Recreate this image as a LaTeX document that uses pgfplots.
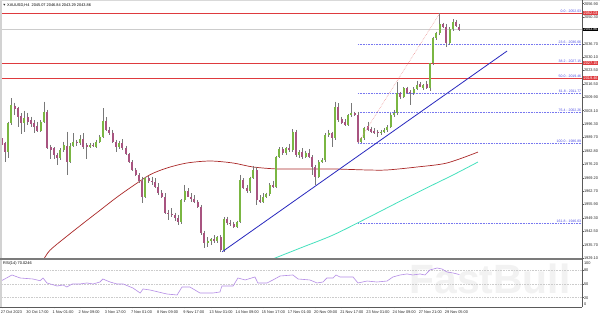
\documentclass[border=0pt]{standalone}
\usepackage{pgfplots}
\pgfplotsset{compat=1.18}
\usepackage{pgfplotstable}
\usepackage{fontspec}
\setmainfont{Liberation Sans}
\newcommand{\ax}{\fontsize{3.9}{4.4}\selectfont}
\newcommand{\fb}{\fontsize{3.5}{4}\selectfont}
\definecolor{bullc}{RGB}{122,182,66}
\definecolor{bearc}{RGB}{168,84,128}
\definecolor{wickc}{RGB}{120,120,120}
\definecolor{redl}{RGB}{222,58,62}
\definecolor{fibc}{RGB}{80,80,230}
\definecolor{fiblc}{RGB}{120,120,240}
\definecolor{trendc}{RGB}{40,40,190}
\definecolor{maredc}{RGB}{170,40,40}
\definecolor{macyanc}{RGB}{70,225,190}
\definecolor{rsic}{RGB}{180,140,230}
\definecolor{framec}{RGB}{90,90,90}
\definecolor{fibdiagc}{RGB}{235,140,140}
\pgfplotsset{/pgf/number format/assume math mode=true}

\pgfplotstableread{
k O H L C
0 1989.2 1990.4 1985.4 1985.9
1 1986.7 1987.5 1977.5 1982.5
2 1982.5 1997.6 1979.2 1996.8
3 1996.8 2009.3 1995.9 2006.0
4 2005.6 2007.1 2000.9 2004.0
5 2004.3 2005.1 1995.1 2000.1
6 2000.4 2001.8 1991.4 1997.1
7 1997.1 2003.1 1992.6 1999.3
8 1999.8 2002.1 1995.9 1997.4
9 1998.4 2000.1 1995.1 1996.4
10 1997.1 1998.4 1991.7 1995.1
11 1995.4 1997.6 1992.6 1993.1
12 1993.1 1998.4 1992.6 1997.6
13 1997.6 2007.6 1996.8 2002.6
14 2002.6 2003.5 1983.7 1984.2
15 1984.7 1985.9 1978.7 1983.3
16 1984.2 1984.7 1978.7 1980.8
17 1980.8 1982.0 1975.8 1979.5
18 1979.5 1984.2 1978.3 1983.3
19 1983.3 1987.5 1982.5 1985.9
20 1985.4 1992.6 1970.8 1977.5
21 1977.5 1986.7 1976.6 1985.4
22 1985.4 1991.7 1984.7 1987.5
23 1987.5 1988.4 1985.4 1986.7
24 1986.7 1990.9 1985.9 1989.0
25 1989.0 1991.7 1983.7 1984.7
26 1985.9 1986.7 1978.7 1984.7
27 1984.7 1986.7 1984.2 1985.9
28 1985.9 1987.0 1984.7 1985.4
29 1984.7 1988.4 1984.2 1987.5
30 1987.5 1990.9 1986.7 1990.1
31 1990.1 2004.3 1989.2 1998.1
32 1998.1 1999.8 1993.1 1993.4
33 1993.4 1995.1 1990.9 1992.1
34 1992.1 1993.4 1987.0 1987.5
35 1987.5 1988.4 1982.5 1984.7
36 1984.7 1988.0 1983.7 1987.0
37 1987.0 1988.7 1983.3 1984.2
38 1984.2 1985.4 1980.8 1981.3
39 1981.3 1982.0 1977.0 1977.5
40 1977.5 1978.3 1973.0 1973.3
41 1973.3 1974.1 1970.3 1970.9
42 1970.9 1971.6 1966.9 1967.9
43 1967.9 1969.9 1956.5 1959.9
44 1959.9 1969.9 1959.0 1969.1
45 1969.1 1970.3 1966.9 1967.9
46 1967.9 1969.9 1965.8 1967.3
47 1967.3 1969.1 1964.1 1964.9
48 1964.9 1966.6 1960.7 1961.9
49 1961.9 1963.2 1959.0 1959.9
50 1959.9 1961.6 1951.2 1951.8
51 1951.8 1953.2 1948.2 1951.2
52 1951.2 1954.0 1949.5 1950.5
53 1950.5 1951.8 1947.8 1949.0
54 1949.0 1950.7 1945.6 1947.0
55 1947.0 1958.5 1946.1 1958.2
56 1958.2 1965.8 1957.4 1962.9
57 1962.9 1964.1 1959.5 1959.9
58 1959.9 1961.6 1957.4 1958.5
59 1958.5 1960.7 1956.5 1957.4
60 1957.4 1958.2 1954.0 1954.9
61 1954.9 1955.7 1940.6 1941.8
62 1941.8 1942.8 1933.9 1936.4
63 1936.4 1939.4 1934.7 1937.8
64 1937.8 1938.9 1935.6 1938.4
65 1938.4 1940.6 1936.4 1937.8
66 1937.8 1940.1 1936.8 1939.4
67 1939.4 1940.6 1932.2 1933.1
68 1933.1 1949.5 1932.2 1948.5
69 1948.5 1949.8 1945.6 1946.8
70 1946.8 1948.2 1945.1 1946.1
71 1946.1 1947.3 1944.0 1944.8
72 1944.8 1947.8 1944.0 1947.3
73 1947.3 1970.8 1946.5 1968.3
74 1968.3 1969.1 1963.6 1964.1
75 1964.1 1965.8 1961.9 1962.7
76 1962.7 1969.9 1961.9 1969.1
77 1969.1 1975.3 1968.6 1973.3
78 1973.3 1975.0 1955.7 1958.2
79 1958.2 1960.7 1956.9 1957.4
80 1957.4 1961.6 1956.9 1959.9
81 1959.9 1961.9 1959.0 1961.2
82 1961.2 1966.6 1960.2 1965.8
83 1965.8 1967.9 1964.1 1964.6
84 1964.6 1980.3 1964.1 1980.0
85 1980.0 1984.7 1979.2 1983.7
86 1983.7 1984.7 1980.8 1981.7
87 1981.7 1984.7 1980.8 1984.2
88 1984.2 1986.4 1982.5 1983.3
89 1983.3 1993.7 1982.5 1992.6
90 1992.6 1993.4 1980.0 1980.8
91 1980.8 1983.3 1979.2 1982.5
92 1982.5 1984.2 1978.7 1979.7
93 1979.7 1983.0 1979.2 1982.0
94 1982.0 1983.7 1979.2 1980.0
95 1980.0 1980.8 1970.8 1975.0
96 1975.0 1975.8 1965.8 1969.9
97 1969.9 1978.3 1969.1 1977.5
98 1977.5 1979.2 1976.6 1978.3
99 1978.3 1991.7 1977.5 1990.9
100 1990.9 1993.4 1990.1 1991.7
101 1991.7 1992.6 1985.0 1989.2
102 1989.2 2007.6 1988.4 2005.1
103 2005.1 2006.8 1997.6 1998.4
104 1998.8 2000.1 1996.4 1997.1
105 1997.6 1998.8 1995.4 1995.9
106 1995.9 2001.4 1995.4 2000.9
107 2000.9 2006.8 2000.1 2001.8
108 2001.8 2002.6 2000.4 2000.9
109 2000.9 2002.6 1986.89 1987.5
110 1987.5 1989.7 1987.0 1989.2
111 1989.2 1995.1 1988.4 1994.2
112 1995.4 1997.6 1993.1 1993.4
113 1993.7 1995.1 1992.1 1992.6
114 1993.1 1994.2 1991.4 1991.7
115 1992.6 1993.4 1990.1 1991.7
116 1992.1 1993.4 1990.9 1992.6
117 1992.6 1994.2 1991.7 1993.4
118 1993.4 1995.9 1992.6 1995.1
119 1995.1 2001.8 1994.2 2000.9
120 2000.9 2003.5 2000.1 2002.1
121 2001.8 2017.7 2000.9 2011.8
122 2011.8 2012.7 2008.8 2009.8
123 2009.8 2014.9 2009.3 2014.4
124 2014.4 2015.2 2011.5 2012.2
125 2012.7 2013.5 2006.0 2011.8
126 2011.8 2014.9 2011.0 2014.2
127 2014.2 2018.2 2013.5 2016.0
128 2016.5 2017.5 2014.9 2015.2
129 2014.4 2016.5 2013.5 2015.9
130 2016.5 2018.2 2013.9 2014.5
131 2014.4 2027.3 2013.2 2026.9
132 2026.9 2040.3 2026.1 2039.5
133 2039.5 2042.9 2038.7 2042.0
134 2042.0 2052.03 2041.2 2046.7
135 2046.7 2047.4 2044.5 2045.4
136 2045.4 2046.7 2035.3 2037.0
137 2037.0 2045.0 2036.1 2044.0
138 2044.0 2049.0 2043.4 2047.9
139 2047.9 2048.7 2045.0 2045.7
140 2045.07 2046.84 2043.29 2043.86
}\candles

\pgfplotstableread{
k v
0.15 57.2
3.2 69.1
5.7 62.6
9.6 60.4
11.8 56.7
12.7 62.6
13.9 51.8
17.0 45.3
18.8 47.4
20.0 43.1
21.6 49.6
24.0 49.6
26.1 51.8
28.0 49.6
30.1 53.9
31.0 60.4
33.2 53.9
35.3 49.6
37.2 49.6
40.2 40.9
42.4 30.1
43.3 38.8
45.4 36.6
50.6 27.9
53.7 25.8
55.2 43.1
57.6 43.1
60.7 30.1
64.7 30.1
66.8 32.3
67.4 45.3
70.8 45.3
72.3 62.6
74.5 58.3
77.5 64.8
78.4 51.8
81.2 51.8
83.0 58.3
85.2 66.9
89.1 69.1
90.7 60.4
94.3 58.3
96.5 51.8
98.3 53.9
99.5 62.6
101.4 62.6
102.3 69.1
103.5 64.8
107.5 64.8
109.0 51.8
111.8 56.0
114.8 53.9
117.9 56.0
119.7 64.8
121.9 69.1
124.0 71.3
125.8 69.1
128.0 71.3
129.5 69.1
131.0 79.9
133.2 84.2
134.7 82.1
136.2 75.6
138.1 73.4
140.0 70.0
}\rsi

\pgfplotstableread{
k v
12.8 1928.0
14.8 1932.9
20.0 1940.0
25.0 1946.5
30.1 1953.0
35.2 1959.5
40.2 1965.3
45.4 1970.9
50.6 1974.3
56.7 1976.8
63.8 1977.8
70.8 1976.8
76.9 1974.8
84.3 1973.8
91.3 1973.8
101.4 1973.8
111.8 1973.3
117.9 1973.3
127.1 1974.8
136.2 1976.8
145.7 1982.3
}\maslow

\pgfplotstableread{
k v
82.1 1928.0
91.3 1934.0
101.4 1940.6
111.8 1949.1
121.9 1957.6
131.9 1965.8
138.1 1970.8
145.7 1977.3
}\mafast

\begin{document}
\begin{tikzpicture}[x=1bp,y=1bp,
  fibl/.style={anchor=south east, font=\fb, text=fibc, inner sep=0.25bp},
  pbox/.style={anchor=west, xshift=0.6bp, text=white, font=\ax, inner xsep=0.8bp, inner ysep=0.5bp},
  fibline/.style={fiblc, line width=0.4bp, dash pattern=on 0.5bp off 1.1bp}]
\path[use as bounding box] (0,0) rectangle (600,316);
\fill[white] (0,0) rectangle (600,316);
\node[font=\fontsize{41}{41}\selectfont\bfseries, text=gray!10, inner sep=0] at (490,37) {FastBull};

\begin{axis}[
  name=main,
  at={(2bp,58bp)}, anchor=south west, scale only axis,
  width=580bp, height=256bp,
  xmin=0.153, xmax=177.52, ymin=1929.04, ymax=2057.75,
  axis line style={draw=none},
  xtick=\empty,
  ytick={1929.1,1935.7,1942.5,1949.3,1955.9,1962.7,1969.2,1976.2,1982.8,1989.7,1996.3,2003.1,2009.9,2016.5,2023.5,2030.1,2036.7,2043.5,2050.3,2056.9},
  ytick pos=right, yticklabel pos=right,
  tick align=outside, major tick length=1.5bp,
  tick style={draw=framec, line width=0.4bp},
  yticklabel style={font=\ax, text=black!85, anchor=west, inner sep=0pt, xshift=0.3bp,
     /pgf/number format/fixed, /pgf/number format/fixed zerofill,
     /pgf/number format/precision=2, /pgf/number format/1000 sep={}},
  scaled y ticks=false,
  clip mode=individual,
]
\addplot[gray!40, line width=0.4bp] coordinates {(0.153,2043.86) (177.52,2043.86)};
\addplot[fibline] coordinates {(109,2052.03) (177.52,2052.03)};
\addplot[fibline] coordinates {(109,2036.66) (177.52,2036.66)};
\addplot[fibline] coordinates {(109,2027.15) (177.52,2027.15)};
\addplot[fibline] coordinates {(109,2019.46) (177.52,2019.46)};
\addplot[fibline] coordinates {(109,2011.77) (177.52,2011.77)};
\addplot[fibline] coordinates {(109,2002.26) (177.52,2002.26)};
\addplot[fibline] coordinates {(109,1986.89) (177.52,1986.89)};
\addplot[fibline] coordinates {(109,1946.63) (177.52,1946.63)};
\addplot[redl, line width=0.7bp] coordinates {(0.153,2052.03) (177.52,2052.03)};
\addplot[redl, line width=0.7bp] coordinates {(0.153,2027.15) (177.52,2027.15)};
\addplot[redl, line width=0.7bp] coordinates {(0.153,2019.46) (177.52,2019.46)};
\addplot[maredc, line width=0.7bp, smooth] table[x=k,y=v] \maslow;
\addplot[macyanc, line width=0.8bp, smooth] table[x=k,y=v] \mafast;
% wicks
\addplot[draw=none, mark=none,
  error bars/.cd, y dir=minus, y explicit, error mark=none,
  error bar style={draw=wickc, line width=0.5bp, solid}]
  table[x=k, y=H, y error minus expr={\thisrow{H}-\thisrow{L}}] \candles;
% bull bodies
\addplot[draw=none, mark=none,
  restrict expr to domain={\thisrow{C}-\thisrow{O}}{0:1000},
  error bars/.cd, y dir=minus, y explicit, error mark=none,
  error bar style={draw=bullc, line width=2bp, line cap=butt, solid}]
  table[x=k, y=C, y error minus expr={\thisrow{C}-\thisrow{O}}] \candles;
% bear bodies
\addplot[draw=none, mark=none,
  restrict expr to domain={\thisrow{O}-\thisrow{C}}{0.0001:1000},
  error bars/.cd, y dir=minus, y explicit, error mark=none,
  error bar style={draw=bearc, line width=2bp, line cap=butt, solid}]
  table[x=k, y=O, y error minus expr={\thisrow{O}-\thisrow{C}}] \candles;
\addplot[trendc, line width=0.8bp] coordinates {(67.5,1932.2) (154.6,2033.1)};
\addplot[fibdiagc, line width=0.5bp, dash pattern=on 0.6bp off 1bp] coordinates {(109,1986.89) (134,2052.03)};

\node[fibl] at (axis cs:177.4,2052.03) {0.0 - 2052.03};
\node[fibl] at (axis cs:177.4,2036.66) {23.6 - 2036.66};
\node[fibl] at (axis cs:177.4,2027.15) {38.2 - 2027.15};
\node[fibl] at (axis cs:177.4,2019.46) {50.0 - 2019.46};
\node[fibl] at (axis cs:177.4,2011.77) {61.8 - 2011.77};
\node[fibl] at (axis cs:177.4,2002.26) {76.4 - 2002.26};
\node[fibl] at (axis cs:177.4,1986.89) {100.0 - 1986.89};
\node[fibl] at (axis cs:177.4,1946.63) {161.8 - 1946.63};

\node[pbox, fill=redl] at (axis cs:177.52,2052.03) {2052.03};
\node[pbox, fill=redl] at (axis cs:177.52,2027.15) {2027.15};
\node[pbox, fill=redl] at (axis cs:177.52,2019.46) {2019.46};
\node[pbox, fill=black] at (axis cs:177.52,2043.86) {2043.86};
\end{axis}

\begin{axis}[
  name=rsiax,
  at={(2bp,9.1bp)}, anchor=south west, scale only axis,
  width=580bp, height=46.2bp,
  xmin=0.153, xmax=177.52, ymin=0, ymax=100,
  axis line style={draw=none},
  xtick={0.2,8,16,24,32,40,48,56,64,72,80,88,96,104,112,120,128,136},
  xticklabels={27 Oct 2023, 30 Oct 17:00, 1 Nov 01:00, 2 Nov 09:00, 3 Nov 17:00, 7 Nov 01:00, 8 Nov 09:00, 9 Nov 17:00, 13 Nov 01:00, 14 Nov 09:00, 15 Nov 17:00, 17 Nov 01:00, 20 Nov 09:00, 21 Nov 17:00, 23 Nov 01:00, 24 Nov 09:00, 27 Nov 21:00, 29 Nov 05:00},
  xtick pos=bottom, xticklabel pos=bottom,
  ytick={20,50,80}, ytick pos=right, yticklabel pos=right,
  tick align=outside, major tick length=1.5bp,
  tick style={draw=framec, line width=0.4bp},
  xticklabel style={font=\ax, text=black!85, anchor=north west, inner sep=0pt, xshift=-1.5bp, yshift=-2.2bp},
  yticklabel style={font=\ax, text=black!85, anchor=west, inner sep=0pt, xshift=0.3bp},
  ymajorgrids, grid style={gray!40, line width=0.4bp, dash pattern=on 0.6bp off 1bp},
  clip mode=individual,
]
\addplot[rsic, line width=0.6bp] table[x=k,y=v] \rsi;
\node[anchor=west, font=\ax, text=black!85, inner sep=0pt, xshift=1.8bp] at (axis cs:177.52,95.7) {100};
\node[anchor=west, font=\ax, text=black!85, inner sep=0pt, xshift=1.8bp] at (axis cs:177.52,5.6) {0};
\end{axis}

% frame
\fill[gray!35] (0,9) rectangle (1.8,316);
\fill[gray!30] (0,315.3) rectangle (600,316);
\draw[framec, line width=0.8bp] (582,316) -- (582,9);
\draw[framec!80, line width=1.1bp] (0,57) -- (582,57);
\draw[framec, line width=0.6bp] (0,9) -- (582,9);

% titles
\fill[black!80] (3.2,312.2) -- (5.4,312.2) -- (4.3,310.4) -- cycle;
\node[anchor=west, font=\ax, inner sep=0] at (7,311) {XAUUSD,H4\ \ 2045.07 2046.84 2043.29 2043.86};
\node[anchor=west, font=\ax, inner sep=0] at (3,53) {RSI(14) 70.0246};
\end{tikzpicture}
\end{document}
